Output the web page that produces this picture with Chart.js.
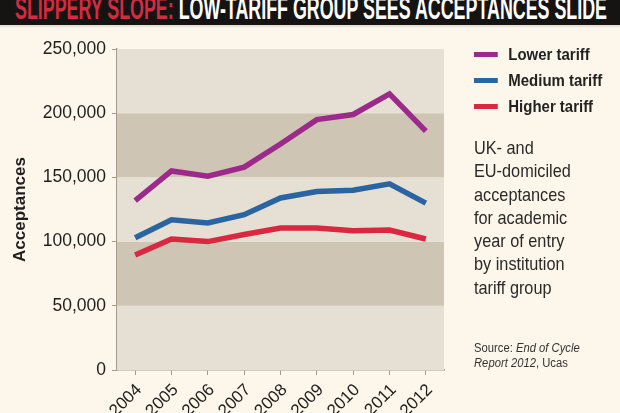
<!DOCTYPE html>
<html>
<head>
<meta charset="utf-8">
<script src="https://cdn.jsdelivr.net/npm/chart.js@4/dist/chart.umd.min.js"></script>
<style>
  html, body { margin: 0; padding: 0; width: 620px; height: 413px; overflow: hidden; background: #fdf6ea; }
  #wrap { position: relative; width: 620px; height: 413px; }
  #c { position: absolute; left: 0; top: 0; }
  #titlebar { position: absolute; left: 0; top: 0; width: 620px; height: 25px; background: #151413; overflow: hidden; border-bottom: 2px solid #e9e2d5; }
  #title { position: absolute; left: 15px; top: -9px; white-space: nowrap; font-family: "Liberation Sans", Arial, sans-serif; font-weight: bold; font-size: 31px; line-height: 36px; transform-origin: 0 0; color: #fff; }
  #title .red { color: #d52a3f; }
  .leg { position: absolute; left: 474px; font-family: "Liberation Sans", sans-serif; font-weight: bold; font-size: 17px; color: #222; white-space: nowrap; transform-origin: 0 50%; }
  .leg i { display: inline-block; width: 27px; height: 5px; vertical-align: middle; margin-right: 12px; position: relative; top: -1px; }
  #desc { position: absolute; left: 474px; top: 136px; font-family: "Liberation Sans", sans-serif; font-size: 18.5px; line-height: 23.3px; color: #2a2a2a; transform: scaleX(0.88); transform-origin: 0 0; white-space: nowrap; }
  #src { position: absolute; left: 474px; top: 341px; font-family: "Liberation Sans", sans-serif; font-size: 12.5px; line-height: 14.5px; color: #333; transform: scaleX(0.9); transform-origin: 0 0; white-space: nowrap; }
</style>
</head>
<body>
<div id="wrap">
  <canvas id="c" width="620" height="413"></canvas>
  <div id="titlebar"><div id="title"><span class="red">SLIPPERY SLOPE:</span> LOW-TARIFF GROUP SEES ACCEPTANCES SLIDE</div></div>
  <div id="legend"></div>
  <div id="desc">UK- and<br>EU-domiciled<br>acceptances<br>for academic<br>year of entry<br>by institution<br>tariff group</div>
  <div id="src">Source: <i>End of Cycle<br>Report 2012</i>, Ucas</div>
</div>
<script>
const years = ["2004","2005","2006","2007","2008","2009","2010","2011","2012"];
const lowerTariff  = [132000, 155000, 151000, 158000, 176000, 195000, 199000, 215000, 186000];
const mediumTariff = [103000, 117000, 114500, 121000, 134000, 139000, 140000, 145000, 130000];
const higherTariff = [ 89500, 102000, 100000, 105500, 110500, 110500, 108500, 109000, 102000];
const seriesNames  = ["Lower tariff", "Medium tariff", "Higher tariff"];
const yTicks = [0, 50000, 100000, 150000, 200000, 250000];

const colors = ["#9c2a8b", "#2b65a1", "#d92840"];
const bandPlugin = {
  id: 'bands',
  beforeDatasetsDraw(chart) {
    const {ctx, chartArea: a, scales: {y}} = chart;
    ctx.save();
    for (let i = 0; i < yTicks.length - 1; i++) {
      const top = y.getPixelForValue(yTicks[i + 1]);
      const bot = y.getPixelForValue(yTicks[i]);
      ctx.fillStyle = (i % 2 === 1) ? "#cfc5b4" : "#e6dfd3";
      ctx.fillRect(a.left, top, a.right - a.left, bot - top);
    }
    ctx.restore();
  }
};

new Chart(document.getElementById('c'), {
  type: 'line',
  data: {
    labels: years,
    datasets: [lowerTariff, mediumTariff, higherTariff].map((d, i) => ({
      label: seriesNames[i],
      data: d,
      borderColor: colors[i],
      backgroundColor: colors[i],
      borderWidth: 5.5,
      pointRadius: 0,
      tension: 0,
      borderJoinStyle: 'miter',
      borderCapStyle: 'butt',
      fill: false
    }))
  },
  options: {
    responsive: false,
    animation: false,
    devicePixelRatio: 1,
    layout: { padding: { left: 0, top: 49, right: 176, bottom: 0 } },
    plugins: { legend: { display: false }, tooltip: { enabled: false }, title: { display: false } },
    scales: {
      x: {
        offset: true,
        grid: { display: true, drawOnChartArea: false, drawTicks: true, tickLength: 5, color: "#a69b8b", offset: false },
        border: { display: true, color: "#a69b8b", width: 1.5 },
        ticks: { minRotation: 45, maxRotation: 45, color: "#1e1e1e", font: { family: "Liberation Sans", size: 17 }, padding: 5, labelOffset: 4 },
        afterFit(s) { s.height = 43; }
      },
      y: {
        min: 0, max: 250000,
        afterBuildTicks(s) { s.ticks = yTicks.map(v => ({ value: v })); },
        grid: { display: true, drawOnChartArea: false, drawTicks: true, tickLength: 5, color: "#a69b8b" },
        border: { display: true, color: "#a69b8b", width: 1.5 },
        ticks: { color: "#1e1e1e", font: { family: "Liberation Sans", size: 17.5 }, padding: 6,
                 callback: v => Number(v).toLocaleString('en-US') },
        title: { display: true, text: "Acceptances", color: "#1e1e1e", font: { family: "Liberation Sans", size: 17, weight: 'bold' }, padding: { top: 10, bottom: 0 } },
        afterFit(s) { s.width = 117; }
      }
    }
  },
  plugins: [bandPlugin]
});

// legend
const legend = document.getElementById('legend');
const legTops = [45, 71, 97];
seriesNames.forEach((n, i) => {
  const d = document.createElement('div');
  d.className = 'leg';
  d.style.top = legTops[i] + 'px';
  d.innerHTML = '<i style="background:' + colors[i] + '"></i>' + n;
  legend.appendChild(d);
  d.style.transform = 'scaleX(0.88)';
});
// fit title width
const t = document.getElementById('title');
const w = t.getBoundingClientRect().width;
t.style.transform = 'scaleX(' + (592 / w) + ')';
</script>
</body>
</html>
